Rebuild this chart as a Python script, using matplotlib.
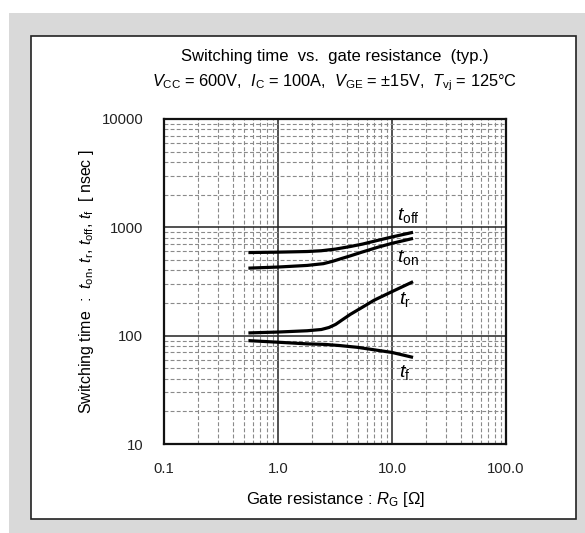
import numpy as np
import matplotlib
matplotlib.use("Agg")
import matplotlib.pyplot as plt
from matplotlib.patches import Rectangle
from matplotlib.ticker import LogLocator, FixedLocator, NullFormatter

plt.rcParams['font.family'] = ['Liberation Sans', 'DejaVu Sans']
plt.rcParams['mathtext.fontset'] = 'custom'
plt.rcParams['mathtext.rm'] = 'Liberation Sans'
plt.rcParams['mathtext.it'] = 'Liberation Sans:italic'

# data (Rg in ohm, times in nsec)
rg_off = [0.55, 1.0, 1.8, 2.4, 3.2, 4.3, 5.5, 7.0, 10.0, 15.3]
t_off = [585, 590, 598, 608, 630, 665, 700, 745, 815, 900]
rg_on = [0.55, 1.0, 1.8, 2.5, 3.0, 3.6, 4.3, 5.3, 7.5, 10.0, 15.3]
t_on = [420, 430, 445, 462, 485, 515, 545, 585, 655, 712, 790]
rg_r = [0.55, 1.0, 1.8, 2.4, 2.8, 3.2, 3.7, 4.3, 5.5, 7.0, 10.0, 15.3]
t_r = [106, 108, 111, 114, 119, 127, 141, 157, 183, 213, 255, 315]
rg_f = [0.55, 1.0, 1.8, 2.6, 3.5, 5.0, 7.0, 10.0, 15.3]
t_f = [90, 87, 84, 83, 81, 78, 74, 70, 63]

curve_labels = [r'$t_{\rm off}$', r'$t_{\rm on}$', r'$t_{\rm r}$', r'$t_{\rm f}$']
label_pos = [(11.0, 1290), (11.0, 530), (11.5, 214), (11.5, 46)]

xticks = [0.1, 1.0, 10.0, 100.0]
xticklabels = ['0.1', '1.0', '10.0', '100.0']
yticks = [10, 100, 1000, 10000]
yticklabels = ['10', '100', '1000', '10000']

W, H = 585, 533
fig = plt.figure(figsize=(W / 100, H / 100), dpi=100)
fig.patch.set_facecolor('white')
fig.patches.append(Rectangle((9 / W, 0), 1 - 9 / W, 1 - 13 / H, transform=fig.transFigure,
                             facecolor='#d9d9d9', edgecolor='none', zorder=0))
fig.patches.append(Rectangle((31 / W, 1 - 519 / H), (576 - 31) / W, (519 - 36) / H,
                             transform=fig.transFigure, facecolor='white',
                             edgecolor='#222222', linewidth=1.2, zorder=1))

ax = fig.add_axes([164 / W, 1 - 444 / H, (506 - 164) / W, (444 - 119) / H])
ax.set_zorder(2)
ax.set_xscale('log')
ax.set_yscale('log')
ax.set_xlim(0.1, 100)
ax.set_ylim(10, 10000)

ax.xaxis.set_major_locator(FixedLocator(xticks))
ax.yaxis.set_major_locator(FixedLocator(yticks))
ax.set_xticklabels(xticklabels)
ax.set_yticklabels(yticklabels)
ax.xaxis.set_minor_locator(LogLocator(base=10, subs=np.arange(2, 10)))
ax.yaxis.set_minor_locator(LogLocator(base=10, subs=np.arange(2, 10)))
ax.xaxis.set_minor_formatter(NullFormatter())
ax.yaxis.set_minor_formatter(NullFormatter())
ax.tick_params(which='both', length=0)
ax.tick_params(axis='x', pad=13, labelsize=10.7, colors='#222222')
ax.tick_params(axis='y', pad=15, labelsize=10.7, colors='#222222')

ax.grid(which='minor', color='#8a8a8a', linestyle=(0, (3.5, 2)), linewidth=0.8)
ax.grid(which='major', color='#222222', linestyle='-', linewidth=1.1)
for s in ax.spines.values():
    s.set_linewidth(1.6)
    s.set_color('#111111')

for xs, ys in [(rg_off, t_off), (rg_on, t_on), (rg_r, t_r), (rg_f, t_f)]:
    ax.plot(xs, ys, color='black', linewidth=2.3, solid_capstyle='butt',
            solid_joinstyle='round', zorder=5)

for lab, (x, y) in zip(curve_labels, label_pos):
    ax.text(x, y, lab, fontsize=14, ha='left', va='center', zorder=6)

ax.set_xlabel(r'Gate resistance : $R_{\rm G}$ [Ω]', fontsize=12, labelpad=10)
ax.set_ylabel(r'Switching time  :  $t_{\rm on}$, $t_{\rm r}$, $t_{\rm off}$, $t_{\rm f}$  [ nsec ]',
              fontsize=11.5, labelpad=4)

fig.text(335 / W, 1 - 56 / H, 'Switching time  vs.  gate resistance  (typ.)',
         fontsize=12, ha='center', va='center')
fig.text(335 / W, 1 - 83 / H,
         r'$V_{\rm CC}$ = 600V,  $I_{\rm C}$ = 100A,  $V_{\rm GE}$ = ±15V,  $T_{\rm vj}$ = 125°C',
         fontsize=11.8, ha='center', va='center')

fig.savefig('out.png', dpi=100)
